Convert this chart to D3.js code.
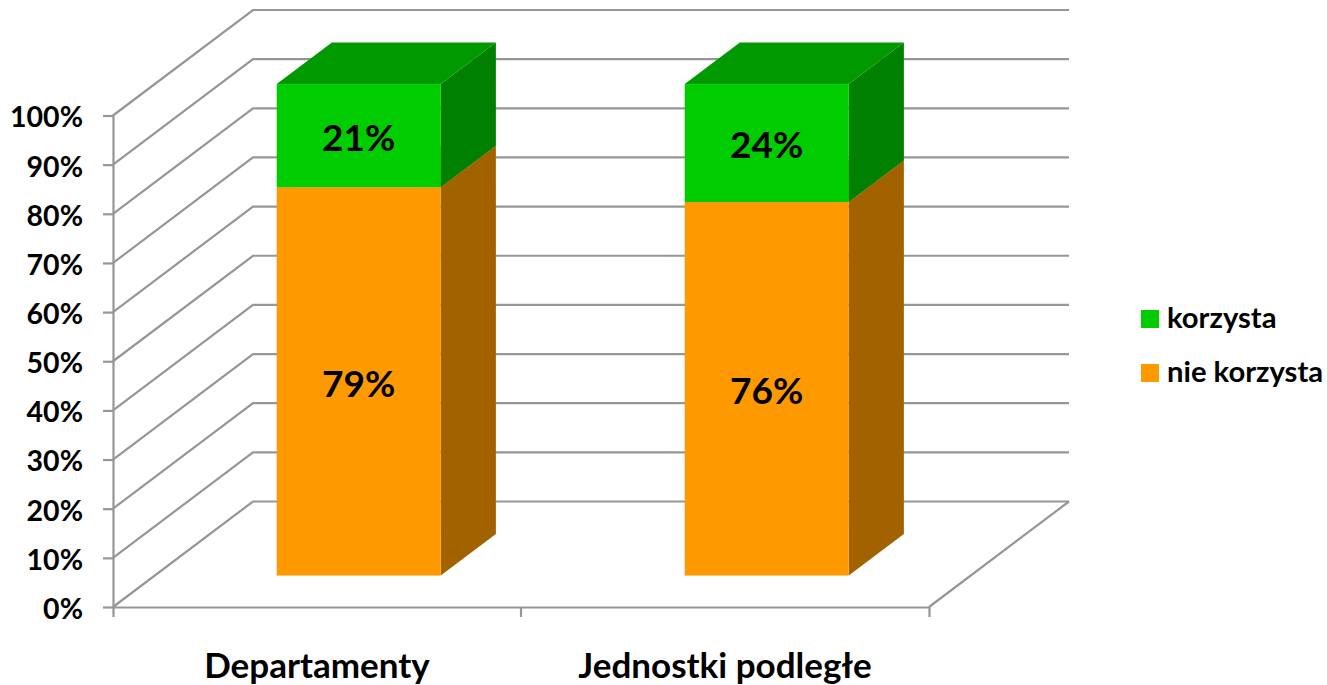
<!DOCTYPE html>
<html>
<head>
<meta charset="utf-8">
<script src="https://cdn.jsdelivr.net/npm/d3@7"></script>
<style>
html, body { margin: 0; padding: 0; background: #fff; }
text { font-family: Lato, "Noto Sans", sans-serif; font-weight: 700; fill: #000; }
.domain, .tick line { stroke: #969696; stroke-width: 2.2; }
</style>
</head>
<body>
<div id="chart"></div>
<script>
var categories = ["Departamenty", "Jednostki podległe"];
var seriesNames = ["nie korzysta", "korzysta"];
var nieKorzysta = [79, 76];
var korzysta = [21, 24];
var yTicks = [0, 10, 20, 30, 40, 50, 60, 70, 80, 90, 100];
var legendOrder = ["korzysta", "nie korzysta"];

var w = 1327, h = 685;
var gridColor = "#969696";
var faces = {
    "nie korzysta": { front: "#ff9900", side: "#a36200", top: "#c47a00" },
    "korzysta": { front: "#00cc00", side: "#008000", top: "#009900" }
};

var svg = d3.select("#chart").append("svg")
    .attr("width", w)
    .attr("height", h)
    .style("display", "block");

var xscale = d3.scaleBand()
    .domain(categories)
    .range([113, 929])
    .paddingInner(0)
    .paddingOuter(0);
var yscale = d3.scaleLinear()
    .domain([0, 100])
    .range([607, 115.5]);

// depth of the 3d box, 0 = front edge of the floor, 1 = back wall
var depthX = d3.scaleLinear().domain([0, 1]).range([0, 140]);
var depthY = d3.scaleLinear().domain([0, 1]).range([0, -105.5]);
var barDepth = [0.298, 0.692];
var barWidth = xscale.bandwidth() * 0.402;

function px(x, d) { return x + depthX(d); }
function py(y, d) { return y + depthY(d); }
function poly(pts) { return pts.map(function (p) { return p.join(","); }).join(" "); }

var x0 = xscale.range()[0], x1 = xscale.range()[1];

// walls: left wall lines + back wall lines
var grid = svg.append("g").attr("fill", "none").attr("stroke", gridColor).attr("stroke-width", 2.2);
grid.selectAll("polyline.wall")
    .data(yTicks)
    .enter().append("polyline")
    .attr("class", "wall")
    .attr("points", function (t) {
        return poly([[x0, yscale(t)], [px(x0, 1), py(yscale(t), 1)], [px(x1, 1), py(yscale(t), 1)]]);
    });
// right edge of floor
grid.append("line")
    .attr("x1", x1).attr("y1", yscale(0))
    .attr("x2", px(x1, 1)).attr("y2", py(yscale(0), 1));

// axes
var yaxis = d3.axisLeft(yscale)
    .tickValues(yTicks)
    .tickFormat(function (d) { return d + "%"; })
    .tickSize(10)
    .tickPadding(20)
    .tickSizeOuter(0);
var gY = svg.append("g")
    .attr("transform", "translate(" + x0 + ",0)")
    .call(yaxis);
gY.selectAll("text")
    .attr("font-size", 28.5)
    .attr("dy", "0.4em");

var xaxis = d3.axisBottom(xscale)
    .tickValues([])
    .tickSizeOuter(10);
var gX = svg.append("g")
    .attr("transform", "translate(0," + yscale(0) + ")")
    .call(xaxis);
// tick marks sit on the category boundaries, not the centres
gX.selectAll("line.sep")
    .data(xscale.domain().slice(0, -1))
    .enter().append("line")
    .attr("class", "sep")
    .attr("stroke", gridColor)
    .attr("stroke-width", 2.2)
    .attr("x1", function (d) { return xscale(d) + xscale.bandwidth(); })
    .attr("x2", function (d) { return xscale(d) + xscale.bandwidth(); })
    .attr("y1", 0)
    .attr("y2", 10);
gX.selectAll("text.cat")
    .data(categories)
    .enter().append("text")
    .attr("class", "cat")
    .attr("text-anchor", "middle")
    .attr("font-size", 35)
    .attr("x", function (d) { return xscale(d) + xscale.bandwidth() / 2; })
    .attr("y", 71)
    .text(function (d) { return d; });

// bars, one block per category and series
var stacked = d3.stack().keys(seriesNames)(categories.map(function (c, i) {
    return { cat: c, "nie korzysta": nieKorzysta[i], "korzysta": korzysta[i] };
}));

var bars = svg.append("g");
stacked.forEach(function (s) {
    var c = faces[s.key];
    var g = bars.selectAll("g.s-" + s.index)
        .data(s)
        .enter().append("g")
        .attr("class", "s-" + s.index);

    function left(d) { return xscale(d.data.cat) + (xscale.bandwidth() - barWidth) / 2; }
    var d0 = barDepth[0], d1 = barDepth[1];

    g.append("polygon")
        .attr("fill", c.side)
        .attr("points", function (d) {
            var xr = left(d) + barWidth, yb = yscale(d[0]), yt = yscale(d[1]);
            return poly([[px(xr, d0), py(yb, d0)], [px(xr, d1), py(yb, d1)], [px(xr, d1), py(yt, d1)], [px(xr, d0), py(yt, d0)]]);
        });
    g.append("polygon")
        .attr("fill", c.top)
        .attr("points", function (d) {
            var xl = left(d), xr = xl + barWidth, yt = yscale(d[1]);
            return poly([[px(xl, d0), py(yt, d0)], [px(xl, d1), py(yt, d1)], [px(xr, d1), py(yt, d1)], [px(xr, d0), py(yt, d0)]]);
        });
    g.append("rect")
        .attr("fill", c.front)
        .attr("x", function (d) { return px(left(d), d0); })
        .attr("y", function (d) { return py(yscale(d[1]), d0); })
        .attr("width", barWidth)
        .attr("height", function (d) { return yscale(d[0]) - yscale(d[1]); });
    g.append("text")
        .attr("text-anchor", "middle")
        .attr("font-size", 37)
        .attr("dy", "0.41em")
        .attr("x", function (d) { return px(left(d), d0) + barWidth / 2; })
        .attr("y", function (d) { return py(yscale((d[0] + d[1]) / 2), d0); })
        .text(function (d) { return (d[1] - d[0]) + "%"; });
});

// legend
var legendY = d3.scalePoint().domain(legendOrder).range([319, 373]);
var legend = svg.selectAll("g.legend")
    .data(legendOrder)
    .enter().append("g")
    .attr("class", "legend")
    .attr("transform", function (d) { return "translate(1141," + legendY(d) + ")"; });
legend.append("rect")
    .attr("y", -9)
    .attr("width", 18)
    .attr("height", 18)
    .attr("fill", function (d) { return faces[d].front; });
legend.append("text")
    .attr("x", 26)
    .attr("y", 9)
    .attr("font-size", 29.2)
    .text(function (d) { return d; });
</script>
</body>
</html>
